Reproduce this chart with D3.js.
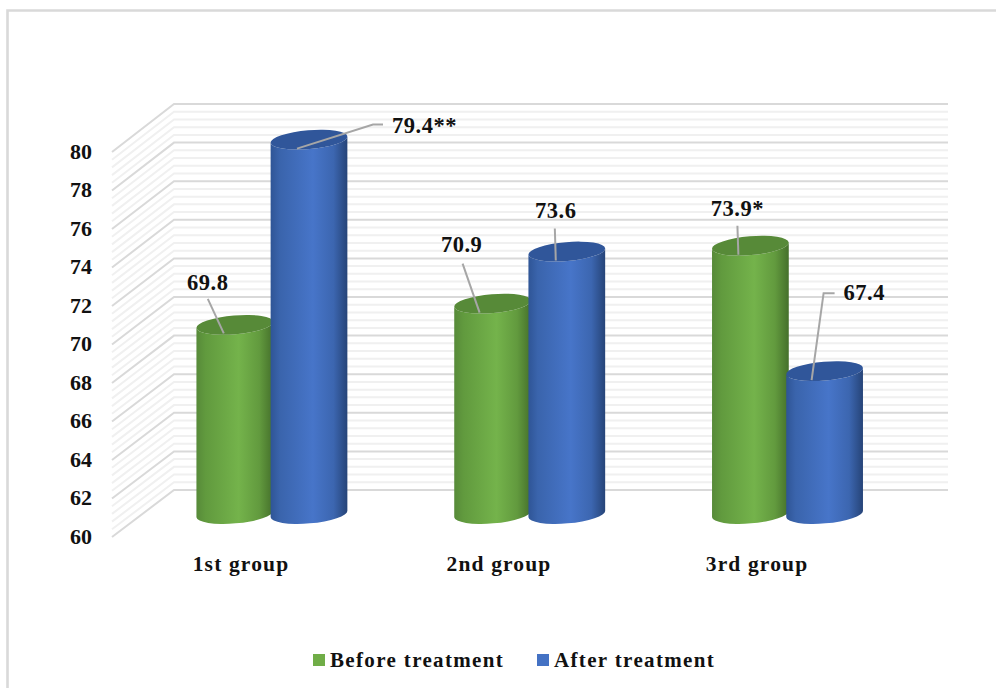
<!DOCTYPE html>
<html>
<head>
<meta charset="utf-8">
<script src="https://cdn.jsdelivr.net/npm/d3@7/dist/d3.min.js"></script>
<style>
  html, body { margin: 0; padding: 0; background: #fff; }
  svg { display: block; }
  text { font-family: "Liberation Serif", serif; font-weight: 700; fill: #111; }
</style>
</head>
<body>
<svg id="chart" width="996" height="688"></svg>
<script>
// Chart content
const categories = ["1st group", "2nd group", "3rd group"];
const seriesNames = ["Before treatment", "After treatment"];
const beforeValues = [69.8, 70.9, 73.9];
const afterValues = [79.4, 73.6, 67.4];
const beforeLabels = ["69.8", "70.9", "73.9*"];
const afterLabels = ["79.4**", "73.6", "67.4"];
const yTicks = [60, 62, 64, 66, 68, 70, 72, 74, 76, 78, 80];

// The 3D box is drawn as three parallel planes: front edge, bar depth, back wall
const yDomain = [60, 80];
const yFront = d3.scaleLinear().domain(yDomain).range([537, 152]);
const yBar = d3.scaleLinear().domain(yDomain).range([514, 128]);
const yBack = d3.scaleLinear().domain(yDomain).range([490, 104]);
const xFront = d3.scaleBand().domain(categories).range([112, 886]);
const xBar = d3.scaleBand().domain(categories).range([143, 916.4]);
const xSeries = d3.scalePoint().domain(seriesNames).range([-37.1, 37.1]);
const wallLeft = 174, wallRight = 948, sideLeft = 112;

const svg = d3.select("#chart");
const defs = svg.append("defs");

function addShade(id, stops) {
  const g = defs.append("linearGradient").attr("id", id)
    .attr("x1", 0).attr("x2", 1).attr("y1", 0).attr("y2", 0);
  stops.forEach(([o, c]) => g.append("stop").attr("offset", o).attr("stop-color", c));
}
addShade("shade-0", [[0, "#578a39"], [0.12, "#619a3e"], [0.55, "#74b34b"], [0.82, "#629a3e"], [1, "#45702b"]]);
addShade("shade-1", [[0, "#2f5596"], [0.12, "#3a64ac"], [0.55, "#4775c9"], [0.82, "#3c66b0"], [1, "#264478"]]);
const topColors = ["#578a38", "#30569a"];
const legendColors = ["#70ad47", "#4472c4"];

// Outer frame: only the top and left rules are visible
svg.append("path").attr("d", "M7.5 688V10.5H996")
  .attr("fill", "none").attr("stroke", "#d9d9d9").attr("stroke-width", 2.6);

// Gridlines on the side and back walls, every 0.4 units with heavier ones at the ticks
const minorValues = d3.range(0, 51).map(i => 60 + i * 0.4);
const grid = svg.append("g").attr("fill", "none");
minorValues.forEach((v, i) => {
  const major = i % 5 === 0;
  grid.append("path")
    .attr("d", `M${sideLeft} ${yFront(v)}L${wallLeft} ${yBack(v)}H${wallRight}`)
    .attr("stroke", major ? "#d9d9d9" : "#f0f0f0")
    .attr("stroke-width", 2);
});

// Cylinders
const rx = 38.5, ry = 9.4, tilt = -4.8;
const tx = rx * Math.cos(tilt * Math.PI / 180), ty = rx * Math.sin(tilt * Math.PI / 180);
function ellipsePath(cy) {
  return `M${-tx} ${cy - ty}A${rx} ${ry} ${tilt} 1 1 ${tx} ${cy + ty}A${rx} ${ry} ${tilt} 1 1 ${-tx} ${cy - ty}Z`;
}
function bodyPath(top, bottom) {
  return `M${-tx} ${top - ty}L${-tx} ${bottom - ty}A${rx} ${ry} ${tilt} 0 0 ${tx} ${bottom + ty}L${tx} ${top + ty}A${rx} ${ry} ${tilt} 0 1 ${-tx} ${top - ty}Z`;
}
const allValues = [beforeValues, afterValues];
const allLabels = [beforeLabels, afterLabels];

// Leader routes relative to each cylinder's top centre, and where its label sits
const leaderRoutes = [
  [ { pts: [[-11, 8.5], [-27, -26]], lx: -27, ly: -35, anchor: "middle" },
    { pts: [[-13, 9], [-30, -40]], lx: -31, ly: -52, anchor: "middle" },
    { pts: [[-12, 9], [-13, -20]], lx: -13, ly: -30, anchor: "middle" } ],
  [ { pts: [[-12, 9], [64, -15], [74, -15]], lx: 83, ly: -7, anchor: "start" },
    { pts: [[-11, 9], [-12, -23]], lx: -11, ly: -34, anchor: "middle" },
    { pts: [[-13, 9], [-1, -78], [10, -78]], lx: 19, ly: -71, anchor: "start" } ]
];

const barLayer = svg.append("g");
const labelLayer = svg.append("g");
categories.forEach((cat, c) => {
  const groupX = xBar(cat) + xBar.bandwidth() / 2;
  seriesNames.forEach((name, s) => {
    const cx = groupX + xSeries(name);
    const value = allValues[s][c];
    const top = yBar(value), bottom = yBar(yDomain[0]);
    const g = barLayer.append("g").attr("transform", `translate(${cx},0)`);
    g.append("path").attr("d", bodyPath(top, bottom)).attr("fill", `url(#shade-${s})`);
    g.append("path").attr("d", ellipsePath(top)).attr("fill", topColors[s]);

    const route = leaderRoutes[s][c];
    const line = d3.line().x(p => cx + p[0]).y(p => top + p[1]);
    labelLayer.append("path").attr("d", line(route.pts))
      .attr("fill", "none").attr("stroke", "#a6a6a6").attr("stroke-width", 2);
    labelLayer.append("text")
      .attr("x", cx + route.lx).attr("y", top + route.ly)
      .attr("text-anchor", route.anchor)
      .attr("font-size", 22.5)
      .style("letter-spacing", "0.5px")
      .text(allLabels[s][c]);
  });
});

// Axes
const yAxis = d3.axisLeft(yFront).tickValues(yTicks).tickSize(0).tickPadding(0).tickFormat(d3.format("d"));
const yG = svg.append("g").attr("transform", "translate(92,-1)").call(yAxis);
yG.select(".domain").remove();
yG.selectAll("text").attr("font-size", 22).attr("fill", "#111");
yG.attr("font-family", null);

const xAxis = d3.axisBottom(xFront).tickSize(0).tickPadding(0);
const xG = svg.append("g").attr("transform", "translate(0,556)").call(xAxis);
xG.select(".domain").remove();
xG.selectAll("text").attr("font-size", 21.5).attr("fill", "#111").style("letter-spacing", "1.15px");
xG.attr("font-family", null);

// Legend
const legendX = [313, 537];
const legendG = svg.append("g");
seriesNames.forEach((name, s) => {
  legendG.append("rect").attr("x", legendX[s]).attr("y", 654).attr("width", 12).attr("height", 12)
    .attr("fill", legendColors[s]);
  legendG.append("text").attr("x", legendX[s] + 17).attr("y", 667)
    .attr("font-size", 21).style("letter-spacing", "1.35px").text(name);
});
</script>
</body>
</html>
